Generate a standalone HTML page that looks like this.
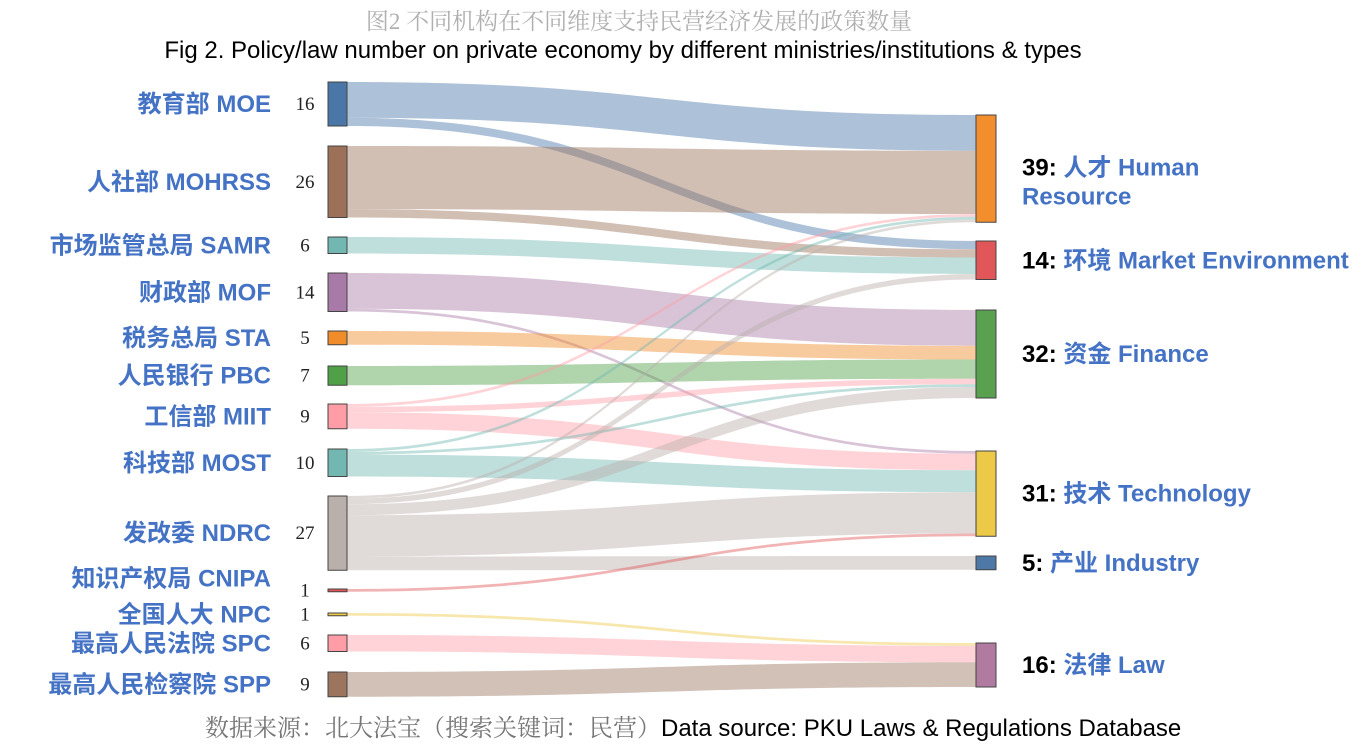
<!DOCTYPE html>
<html><head><meta charset="utf-8">
<style>
html,body{margin:0;padding:0;background:#fff;}
body{width:1368px;height:750px;overflow:hidden;position:relative;font-family:"Liberation Sans","Noto Sans CJK SC",sans-serif;}
svg{position:absolute;left:0;top:0;}
</style></head>
<body>
<svg id="chart" width="1368" height="750" viewBox="0 0 1368 750">
  <text x="639" y="29" text-anchor="middle" font-family="'Liberation Serif','Noto Serif CJK SC',serif" font-size="23" fill="#b0b0b0">图2 不同机构在不同维度支持民营经济发展的政策数量</text>
  <text x="623" y="58" text-anchor="middle" font-size="24" fill="#000">Fig 2. Policy/law number on private economy by different ministries/institutions &amp; types</text>
  <g id="links"></g>
  <g id="nodes"></g>
  <g id="labels"></g>
  <text x="205" y="736" font-size="24" fill="#000"><tspan font-family="'Liberation Serif','Noto Serif CJK SC',serif" fill="#777">数据来源：北大法宝（搜索关键词：民营）</tspan>Data source: PKU Laws &amp; Regulations Database</text>
</svg>
<script>
const sources = ["教育部 MOE","人社部 MOHRSS","市场监管总局 SAMR","财政部 MOF","税务总局 STA","人民银行 PBC","工信部 MIIT","科技部 MOST","发改委 NDRC","知识产权局 CNIPA","全国人大 NPC","最高人民法院 SPC","最高人民检察院 SPP"];
const targetsCn = ["人才 Human","环境 Market Environment","资金 Finance","技术 Technology","产业 Industry","法律 Law"];
// flows: [sourceIndex, targetIndex, value]
const flowSrc = [0,0,1,1,2,3,3,4,5,6,6,6,7,7,7,8,8,8,8,8,9,10,11,12];
const flowTgt = [0,1,0,1,1,2,3,2,2,0,2,3,0,2,3,0,1,2,3,4,3,5,5,5];
const flowVal = [13,3,23,3,6,13,1,5,7,1,2,6,1,1,8,1,2,4,15,5,1,1,6,9];

// layout (not data)
const K = 2.75;
const leftTop = [82,146,237,273,331,366,404,449,496,589,613,635,672];
const rightTop = [115,241,310,451,556,643];
const LX0=328, LX1=347, RX0=976, RX1=996;
const srcColor = ["#4a76a8","#9c7059","#72b7b2","#a87aa7","#f08c2a","#50a047","#ff9da7","#72b7b2","#bab0ab","#e15759","#edc949","#ff9da7","#9c755f"];
const tgtColor = ["#f28e2b","#e15759","#59a14f","#edc948","#4e79a7","#b07aa1"];

const NS="http://www.w3.org/2000/svg";
const gL=document.getElementById('links'), gN=document.getElementById('nodes'), gT=document.getElementById('labels');
function mk(tag,attrs,parent){const e=document.createElementNS(NS,tag);for(const k in attrs)e.setAttribute(k,attrs[k]);parent.appendChild(e);return e;}

const srcSum=sources.map(()=>0), tgtSum=targetsCn.map(()=>0);
flowVal.forEach((v,i)=>{srcSum[flowSrc[i]]+=v;tgtSum[flowTgt[i]]+=v;});
const srcOff=leftTop.slice(), tgtOff=rightTop.slice();
const idx=flowVal.map((_,i)=>i);
const srcY={},tgtY={};
idx.slice().sort((a,b)=>flowSrc[a]-flowSrc[b]||flowTgt[a]-flowTgt[b]).forEach(i=>{srcY[i]=srcOff[flowSrc[i]];srcOff[flowSrc[i]]+=flowVal[i]*K;});
idx.slice().sort((a,b)=>flowTgt[a]-flowTgt[b]||flowSrc[a]-flowSrc[b]).forEach(i=>{tgtY[i]=tgtOff[flowTgt[i]];tgtOff[flowTgt[i]]+=flowVal[i]*K;});
idx.forEach(i=>{
  const h=flowVal[i]*K, y0=srcY[i], y1=tgtY[i], xm=(LX1+RX0)/2;
  const d=`M${LX1},${y0} C${xm},${y0} ${xm},${y1} ${RX0},${y1} L${RX0},${y1+h} C${xm},${y1+h} ${xm},${y0+h} ${LX1},${y0+h} Z`;
  const p=mk('path',{d:d,fill:srcColor[flowSrc[i]],'fill-opacity':0.45},gL);
  
  
});
sources.forEach((s,i)=>{
  const h=srcSum[i]*K, y=leftTop[i];
  const r=mk('rect',{x:LX0,y:y,width:LX1-LX0,height:h,fill:srcColor[i],stroke:"#444",'stroke-width':1},gN);
  
  
  const cy=y+h/2+(i===9?-12:0);
  const t=mk('text',{x:271,y:cy+8,'text-anchor':'end','font-size':24,'font-weight':'bold',fill:'#4472c4'},gT);
  t.textContent=s;
  
  
  const n=mk('text',{x:305,y:y+h/2+6,'text-anchor':'middle','font-size':19,'font-family':"'Liberation Serif',serif",fill:'#222'},gT);
  n.textContent=srcSum[i];
  
  
});
targetsCn.forEach((s,i)=>{
  const h=tgtSum[i]*K, y=rightTop[i];
  const r=mk('rect',{x:RX0,y:y,width:RX1-RX0,height:h,fill:tgtColor[i],stroke:"#444",'stroke-width':1},gN);
  
  
  const t=mk('text',{x:1022,y:y+h/2+(i===0?7:8),'font-size':24,'font-weight':'bold',fill:'#4472c4'},gT);
  
  
  const a=mk('tspan',{fill:'#000'},t); a.textContent=tgtSum[i]+': ';
  const b=mk('tspan',{},t); b.textContent=s;
  if(i===0){const c=mk('tspan',{x:1022,dy:29},t);c.textContent='Resource';}
});
</script>
</body></html>
